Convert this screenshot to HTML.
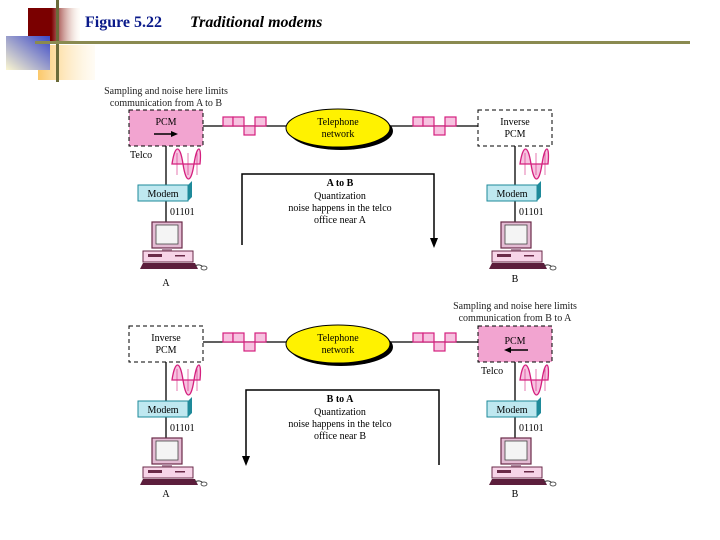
<!DOCTYPE html>
<html><head><meta charset="utf-8"><style>
html,body{margin:0;padding:0;background:#fff;}
svg{display:block;}
text{font-family:"Liberation Serif",serif;}
</style></head><body>
<svg width="720" height="540" viewBox="0 0 720 540" xmlns="http://www.w3.org/2000/svg">
<defs>
<linearGradient id="gr" x1="0" y1="0" x2="1" y2="0"><stop offset="0.45" stop-color="#7a0000"/><stop offset="1" stop-color="#fff8e8" stop-opacity="0.2"/></linearGradient>
<linearGradient id="gb" x1="0" y1="1" x2="1" y2="0"><stop offset="0" stop-color="#fbf6d0"/><stop offset="1" stop-color="#3a47c8"/></linearGradient>
<linearGradient id="go" x1="0" y1="0" x2="1" y2="0"><stop offset="0" stop-color="#fbc86a"/><stop offset="1" stop-color="#fff4dc" stop-opacity="0.3"/></linearGradient>
<g id="sig" fill="#f7c2e0" stroke="#d4207e" stroke-width="1.2">
<rect x="0" y="-9" width="10" height="9"/><rect x="10" y="-9" width="11" height="9"/><rect x="21" y="0" width="11" height="9"/><rect x="32" y="-9" width="11" height="9"/>
</g>
<g id="sine" stroke="#d4207e" stroke-width="1.3">
<path d="M0,14 C3,-6 8,-6 11,14 C14,34 19,34 22,14 C25,-6 30,-6 28,14 Z" fill="#f7c2e0"/>
<line x1="0" y1="14" x2="28" y2="14" stroke-width="0.8"/>
<line x1="5" y1="3" x2="5" y2="25" stroke-width="0.6"/>
<line x1="16" y1="3" x2="16" y2="25" stroke-width="0.6"/>
<line x1="25" y1="3" x2="25" y2="25" stroke-width="0.6"/>
</g>
<g id="modem">
<polygon points="0,2 50,2 54,-2 54,14 50,18 0,18" fill="#1e8a9a"/>
<rect x="0" y="2" width="50" height="16" fill="#bfe8f0" stroke="#1e8a9a" stroke-width="1"/>
</g>
<g id="pc">
<rect x="12" y="0" width="30" height="26" fill="#e4bcd4" stroke="#6a2a48" stroke-width="1.2"/>
<rect x="16" y="3" width="22" height="19" fill="#f4f4f4" stroke="#444" stroke-width="0.8"/>
<rect x="22" y="26" width="10" height="3" fill="#b08aa0"/>
<rect x="3" y="29" width="50" height="11" fill="#f7d4e8" stroke="#6a2a48" stroke-width="1"/>
<rect x="8" y="32" width="14" height="3" fill="#6a2a48"/>
<rect x="35" y="33" width="10" height="1.5" fill="#6a2a48"/>
<polygon points="3,41 55,41 58,47 0,47" fill="#5c1e3c"/>
<path d="M55,44 q5,-3 9,2" fill="none" stroke="#333" stroke-width="1"/>
<ellipse cx="64" cy="46" rx="3" ry="2" fill="#fff" stroke="#333" stroke-width="0.8"/>
</g>
</defs>

<rect x="38" y="45" width="57" height="35" fill="url(#go)"/>
<rect x="28" y="8" width="52" height="34" fill="url(#gr)"/>
<rect x="6" y="36" width="44" height="34" fill="url(#gb)"/>
<rect x="56" y="0" width="3" height="82" fill="#6b6b3a"/>
<rect x="35" y="41" width="655" height="3" fill="#8a8a50"/>
<text x="85" y="27" font-size="16" font-weight="bold" fill="#0a1a8a">Figure 5.22</text>
<text x="190" y="27" font-size="16" font-weight="bold" font-style="italic" fill="#000">Traditional modems</text>

<g font-size="10" fill="#222">
<text x="166" y="94" text-anchor="middle">Sampling and noise here limits</text>
<text x="166" y="106" text-anchor="middle">communication from A to B</text>
</g>
<line x1="203" y1="126" x2="478" y2="126" stroke="#000" stroke-width="1.3"/>
<rect x="129" y="110" width="74" height="36" fill="#f2a4d0" stroke="#000" stroke-dasharray="4,3"/>
<text x="166" y="125" font-size="10" text-anchor="middle">PCM</text>
<line x1="154" y1="134" x2="174" y2="134" stroke="#000" stroke-width="1.5"/><polygon points="178,134 171,131 171,137" fill="#000"/>
<rect x="478" y="110" width="74" height="36" fill="#fff" stroke="#000" stroke-dasharray="4,3"/>
<text x="515" y="125" font-size="10" text-anchor="middle">Inverse</text>
<text x="515" y="137" font-size="10" text-anchor="middle">PCM</text>
<use href="#sig" x="223" y="126"/><use href="#sig" x="413" y="126"/>
<ellipse cx="341" cy="131" rx="52" ry="19" fill="#000"/>
<ellipse cx="338" cy="128" rx="52" ry="19" fill="#fff200" stroke="#000"/>
<text x="338" y="125" font-size="10" text-anchor="middle">Telephone</text>
<text x="338" y="137" font-size="10" text-anchor="middle">network</text>
<line x1="166" y1="146" x2="166" y2="240" stroke="#000" stroke-width="1.3"/>
<line x1="515" y1="146" x2="515" y2="240" stroke="#000" stroke-width="1.3"/>
<text x="130" y="158" font-size="10">Telco</text>
<use href="#sine" x="172" y="150"/><use href="#sine" x="520" y="150"/>
<use href="#modem" x="138" y="183"/><use href="#modem" x="487" y="183"/>
<text x="163" y="197" font-size="10" text-anchor="middle">Modem</text>
<text x="512" y="197" font-size="10" text-anchor="middle">Modem</text>
<text x="170" y="215" font-size="10">01101</text>
<text x="519" y="215" font-size="10">01101</text>
<use href="#pc" x="140" y="222"/><use href="#pc" x="489" y="222"/>
<text x="166" y="286" font-size="10" text-anchor="middle">A</text>
<text x="515" y="282" font-size="10" text-anchor="middle">B</text>
<path d="M242,245 V174 H434 V240" fill="none" stroke="#000" stroke-width="1.5"/>
<polygon points="434,248 430,238 438,238" fill="#000"/>
<g font-size="10" text-anchor="middle">
<text x="340" y="186" font-weight="bold">A to B</text>
<text x="340" y="199">Quantization</text>
<text x="340" y="211">noise happens in the telco</text>
<text x="340" y="223">office near A</text>
</g>

<g font-size="10" fill="#222">
<text x="515" y="309" text-anchor="middle">Sampling and noise here limits</text>
<text x="515" y="321" text-anchor="middle">communication from B to A</text>
</g>
<line x1="203" y1="342" x2="478" y2="342" stroke="#000" stroke-width="1.3"/>
<rect x="129" y="326" width="74" height="36" fill="#fff" stroke="#000" stroke-dasharray="4,3"/>
<text x="166" y="341" font-size="10" text-anchor="middle">Inverse</text>
<text x="166" y="353" font-size="10" text-anchor="middle">PCM</text>
<rect x="478" y="326" width="74" height="36" fill="#f2a4d0" stroke="#000" stroke-dasharray="4,3"/>
<text x="515" y="344" font-size="10" text-anchor="middle">PCM</text>
<line x1="508" y1="350" x2="528" y2="350" stroke="#000" stroke-width="1.5"/><polygon points="504,350 511,347 511,353" fill="#000"/>
<use href="#sig" x="223" y="342"/><use href="#sig" x="413" y="342"/>
<ellipse cx="341" cy="347" rx="52" ry="19" fill="#000"/>
<ellipse cx="338" cy="344" rx="52" ry="19" fill="#fff200" stroke="#000"/>
<text x="338" y="341" font-size="10" text-anchor="middle">Telephone</text>
<text x="338" y="353" font-size="10" text-anchor="middle">network</text>
<line x1="166" y1="362" x2="166" y2="456" stroke="#000" stroke-width="1.3"/>
<line x1="515" y1="362" x2="515" y2="456" stroke="#000" stroke-width="1.3"/>
<text x="481" y="374" font-size="10">Telco</text>
<use href="#sine" x="172" y="366"/><use href="#sine" x="520" y="366"/>
<use href="#modem" x="138" y="399"/><use href="#modem" x="487" y="399"/>
<text x="163" y="413" font-size="10" text-anchor="middle">Modem</text>
<text x="512" y="413" font-size="10" text-anchor="middle">Modem</text>
<text x="170" y="431" font-size="10">01101</text>
<text x="519" y="431" font-size="10">01101</text>
<use href="#pc" x="140" y="438"/><use href="#pc" x="489" y="438"/>
<text x="166" y="497" font-size="10" text-anchor="middle">A</text>
<text x="515" y="497" font-size="10" text-anchor="middle">B</text>
<path d="M246,458 V390 H439 V465" fill="none" stroke="#000" stroke-width="1.5"/>
<polygon points="246,466 242,456 250,456" fill="#000"/>
<g font-size="10" text-anchor="middle">
<text x="340" y="402" font-weight="bold">B to A</text>
<text x="340" y="415">Quantization</text>
<text x="340" y="427">noise happens in the telco</text>
<text x="340" y="439">office near B</text>
</g>
</svg>
</body></html>
